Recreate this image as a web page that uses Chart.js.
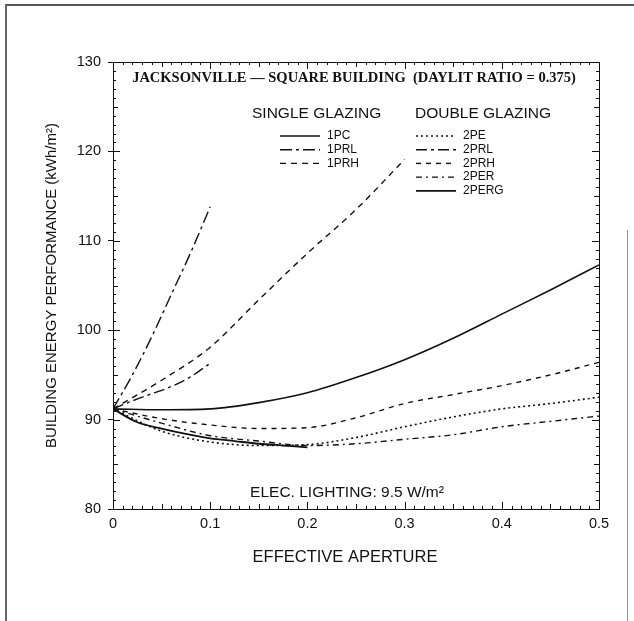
<!DOCTYPE html>
<html>
<head>
<meta charset="utf-8">
<script src="https://cdn.jsdelivr.net/npm/chart.js@4.4.1/dist/chart.umd.min.js"></script>
<style>
  html, body { margin: 0; padding: 0; background: #fff; }
  #wrap { position: relative; width: 634px; height: 621px; }
  #frame { position: absolute; left: 5px; top: 4px; width: 640px; height: 640px;
           border-left: 2px solid #666; border-top: 2px solid #555; }
  #edge { position: absolute; left: 627px; top: 230px; width: 1px; height: 391px; background: #999; }
  canvas { position: absolute; left: 0; top: 0; }
</style>
</head>
<body>
<div id="wrap">
  <div id="frame"></div>
  <div id="edge"></div>
  <canvas id="chart" width="634" height="621"></canvas>
</div>
<script>
/* ── Datos ─────────────────────────────────────── */
const xFull  = [0, 0.05, 0.1, 0.15, 0.2, 0.25, 0.3, 0.35, 0.4, 0.45, 0.5];
const xTenth = [0, 0.02, 0.04, 0.06, 0.08, 0.1];
const x1PRH  = [0, 0.05, 0.1, 0.15, 0.2, 0.25, 0.3];
const x2PERG = [0, 0.025, 0.05, 0.075, 0.1, 0.125, 0.15, 0.175, 0.2];

const y1PC   = [91.2, 91.1, 91.2, 91.9, 93.0, 94.7, 96.7, 99.1, 101.8, 104.5, 107.3];
const y1PRL  = [91.2, 95.0, 99.3, 104.0, 108.7, 113.8];
const y1PRH  = [91.2, 94.4, 98.1, 103.4, 108.6, 113.5, 119.1];
const y2PE   = [91.2, 88.7, 87.5, 87.1, 87.2, 88.0, 89.2, 90.3, 91.2, 91.8, 92.5];
const y2PRL  = [91.2, 92.1, 92.9, 93.7, 94.8, 96.3];
const y2PRH  = [91.2, 90.1, 89.4, 89.0, 89.1, 90.2, 91.8, 92.8, 93.8, 95.0, 96.4];
const y2PER  = [91.2, 89.6, 88.2, 87.6, 87.1, 87.3, 87.8, 88.3, 89.2, 89.8, 90.4];
const y2PERG = [91.2, 89.7, 89.0, 88.4, 87.9, 87.6, 87.3, 87.1, 86.9];

const xTicks = [0, 0.1, 0.2, 0.3, 0.4, 0.5];
const xTickLabels = ["0", "0.1", "0.2", "0.3", "0.4", "0.5"];
const yTicks = [80, 90, 100, 110, 120, 130];

const pts = (xs, ys) => xs.map((x, i) => ({ x, y: ys[i] }));

function serie(label, xs, ys, dash, width, group) {
  return {
    label, group,
    data: pts(xs, ys),
    borderColor: "#111",
    borderWidth: width,
    borderDash: dash,
    pointRadius: 0,
    fill: false,
    cubicInterpolationMode: "monotone",
  };
}

const datasets = [
  serie("1PC",   xFull,  y1PC,   [],            1.6, "single"),
  serie("1PRL",  xTenth, y1PRL,  [12, 4, 3, 4], 1.4, "single"),
  serie("1PRH",  x1PRH,  y1PRH,  [6, 5],        1.4, "single"),
  serie("2PE",   xFull,  y2PE,   [2, 3],        1.6, "double"),
  serie("2PRL",  xTenth, y2PRL,  [11, 4, 3, 4], 1.4, "double"),
  serie("2PRH",  xFull,  y2PRH,  [5, 5],        1.4, "double"),
  serie("2PER",  xFull,  y2PER,  [6, 4, 2, 4],  1.4, "double"),
  serie("2PERG", x2PERG, y2PERG, [],            1.8, "double"),
];

/* ── Marco, ticks menores, leyenda y textos ────── */
const decor = {
  id: "decor",
  afterDraw(chart) {
    const { ctx, chartArea: a, scales } = chart;
    const xs = scales.x, ys = scales.y;
    ctx.save();
    ctx.strokeStyle = "#111";
    ctx.lineWidth = 1;
    ctx.strokeRect(a.left + 0.5, a.top + 0.5, a.right - a.left, a.bottom - a.top);

    // ticks hacia adentro, en los 4 lados
    ctx.beginPath();
    for (let i = 0; i <= 50; i++) {
      const v = i / 100;
      const px = Math.round(xs.getPixelForValue(v)) + 0.5;
      const len = i % 10 === 0 ? 7 : (i % 5 === 0 ? 5 : 3);
      ctx.moveTo(px, a.bottom); ctx.lineTo(px, a.bottom - len);
      ctx.moveTo(px, a.top);    ctx.lineTo(px, a.top + len);
    }
    for (let v = 80; v <= 130; v++) {
      const py = Math.round(ys.getPixelForValue(v)) + 0.5;
      const len = v % 10 === 0 ? 7 : (v % 5 === 0 ? 5 : 3);
      ctx.moveTo(a.left, py);  ctx.lineTo(a.left + len, py);
      ctx.moveTo(a.right, py); ctx.lineTo(a.right - len, py);
    }
    ctx.stroke();

    // título interno
    ctx.fillStyle = "#111";
    ctx.textBaseline = "middle";
    ctx.textAlign = "center";
    ctx.font = "bold 14.5px 'Liberation Serif'";
    ctx.fillText("JACKSONVILLE — SQUARE BUILDING  (DAYLIT RATIO = 0.375)", 354, 78);

    ctx.font = "15.5px 'Liberation Sans'";
    ctx.textAlign = "left";
    ctx.fillText("SINGLE GLAZING", 252, 114);
    ctx.fillText("DOUBLE GLAZING", 415, 114);

    // leyenda
    const rows = { single: { x: 280, y: 136 }, double: { x: 416, y: 136 } };
    ctx.font = "12px 'Liberation Sans'";
    chart.data.datasets.forEach((ds) => {
      const r = rows[ds.group];
      ctx.beginPath();
      ctx.setLineDash(ds.borderDash);
      ctx.lineWidth = ds.borderWidth;
      ctx.moveTo(r.x, r.y); ctx.lineTo(r.x + 40, r.y);
      ctx.stroke();
      ctx.setLineDash([]);
      ctx.fillText(ds.label, r.x + 47, r.y);
      r.y += 13.7;
    });

    ctx.font = "15.5px 'Liberation Sans'";
    ctx.textAlign = "center";
    ctx.fillText("ELEC. LIGHTING: 9.5 W/m²", 347, 493);

    ctx.font = "16.5px 'Liberation Sans'";
    ctx.fillText("EFFECTIVE APERTURE", 345, 557);
    ctx.restore();
  },
};

/* ── Chart ─────────────────────────────────────── */
const ctx = document.getElementById("chart").getContext("2d");
new Chart(ctx, {
  type: "line",
  data: { datasets },
  options: {
    responsive: false,
    animation: false,
    layout: { padding: { top: 62, right: 35, left: 0, bottom: 0 } },
    scales: {
      x: {
        type: "linear",
        min: 0,
        max: 0.5,
        afterFit: (s) => { s.height = 112; },
        afterBuildTicks: (s) => { s.ticks = xTicks.map((v) => ({ value: v })); },
        grid: { display: true, drawOnChartArea: false, drawTicks: false },
        border: { display: true, color: "#111", width: 1 },
        ticks: {
          color: "#111",
          padding: 6,
          font: { family: "Liberation Sans", size: 14.5 },
          callback: (v) => xTickLabels[xTicks.indexOf(v)] ?? "",
        },
      },
      y: {
        min: 80,
        max: 130,
        afterFit: (s) => { s.width = 113; },
        afterBuildTicks: (s) => { s.ticks = yTicks.map((v) => ({ value: v })); },
        grid: { display: true, drawOnChartArea: false, tickLength: 5, color: "#111" },
        border: { display: true, color: "#111", width: 1 },
        ticks: {
          color: "#111",
          padding: 7,
          font: { family: "Liberation Sans", size: 14.5 },
        },
        title: {
          display: true,
          text: "BUILDING ENERGY PERFORMANCE (kWh/m²)",
          color: "#111",
          font: { family: "Liberation Sans", size: 15 },
          padding: { top: 43, bottom: 0 },
        },
      },
    },
    plugins: {
      legend: { display: false },
      tooltip: { enabled: false },
    },
  },
  plugins: [decor],
});
</script>
</body>
</html>
